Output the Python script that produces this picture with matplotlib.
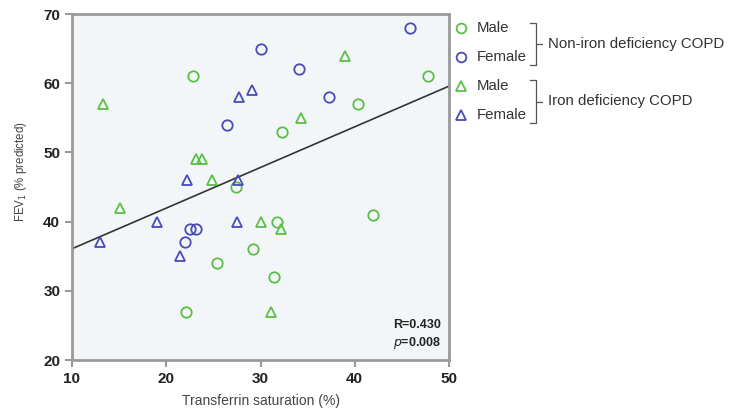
import matplotlib
matplotlib.use("Agg")
import matplotlib.pyplot as plt
from matplotlib.lines import Line2D

# Transferrin saturation (%) and FEV1 (% predicted) per group
nonid_male_x = [22.8, 27.4, 32.3, 40.3, 47.8, 41.9, 31.8, 29.2, 31.4, 25.4, 22.1]
nonid_male_y = [61, 45, 53, 57, 61, 41, 40, 36, 32, 34, 27]

nonid_female_x = [30.0, 34.1, 37.3, 45.9, 26.4, 22.5, 23.2, 22.0]
nonid_female_y = [65, 62, 58, 68, 54, 39, 39, 37]

id_male_x = [13.3, 23.2, 23.8, 24.9, 15.1, 39.0, 34.3, 30.0, 32.2, 31.1]
id_male_y = [57, 49, 49, 46, 42, 64, 55, 40, 39, 27]

id_female_x = [27.7, 29.1, 22.2, 27.6, 13.0, 19.0, 21.5, 27.5]
id_female_y = [58, 59, 46, 46, 37, 40, 35, 40]

# Regression line: FEV1 = intercept + slope * TSAT
fit_intercept = 30.2
fit_slope = 0.5875
fit_range = [10, 50]

x_ticks = [10, 20, 30, 40, 50]
y_ticks = [20, 30, 40, 50, 60, 70]

GREEN = "#5bbf45"
BLUE = "#4a4ab8"

plt.rcParams["font.family"] = ["Liberation Sans", "DejaVu Sans"]

fig = plt.figure(figsize=(7.36, 4.16), dpi=100)
ax = fig.add_axes([72 / 736, 1 - 360 / 416, (449 - 72) / 736, (360 - 14) / 416])
ax.set_facecolor("#f3f6f8")

ms = 7.5
mew = 1.3
ax.plot(nonid_male_x, nonid_male_y, "o", ms=ms, mfc="none", mec=GREEN, mew=mew, zorder=3)
ax.plot(nonid_female_x, nonid_female_y, "o", ms=ms, mfc="none", mec=BLUE, mew=mew, zorder=3)
ax.plot(id_male_x, id_male_y, "^", ms=ms, mfc="none", mec=GREEN, mew=mew, zorder=3)
ax.plot(id_female_x, id_female_y, "^", ms=ms, mfc="none", mec=BLUE, mew=mew, zorder=3)

line_y = [fit_intercept + fit_slope * x for x in fit_range]
ax.plot(fit_range, line_y, color="#333333", lw=1.2, zorder=2)

ax.set_xlim(10, 50)
ax.set_ylim(20, 70)
ax.set_xticks(x_ticks)
ax.set_yticks(y_ticks)
for s in ax.spines.values():
    s.set_color("#9a9a9a")
    s.set_linewidth(2)
ax.tick_params(direction="out", length=5, width=1.5, color="#9a9a9a",
               labelsize=11, labelcolor="#222222")
for lbl in ax.get_xticklabels() + ax.get_yticklabels():
    lbl.set_fontweight("bold")

ax.set_xlabel("Transferrin saturation (%)", fontsize=10, color="#444444", labelpad=6)
ax.set_ylabel("FEV$_1$ (% predicted)", fontsize=8.3, color="#444444")
ax.yaxis.set_label_coords(-0.115, 0.545)

ax.text(0.98, 0.101, "R=0.430", transform=ax.transAxes, ha="right", va="center",
        fontsize=9, fontweight="bold", color="#222222")
ax.text(0.98, 0.049, r"$\bf{\it{p}}$=0.008", transform=ax.transAxes, ha="right", va="center",
        fontsize=9, fontweight="bold", color="#222222")

# Legend with grouping brackets, placed in figure pixel coordinates
W, H = 736, 416


def fx(px):
    return px / W


def fy(py):
    return 1 - py / H


entries = [("o", GREEN, "Male", 28), ("o", BLUE, "Female", 57),
           ("^", GREEN, "Male", 86), ("^", BLUE, "Female", 115)]
for marker, col, label, py in entries:
    fig.add_artist(Line2D([fx(461)], [fy(py)], marker=marker, ms=7, mfc="none",
                          mec=col, mew=1.3, transform=fig.transFigure))
    fig.text(fx(477), fy(py), label, fontsize=10.8, color="#333333", va="center", ha="left")

groups = [(23, 65, "Non-iron deficiency COPD"), (80, 123, "Iron deficiency COPD")]
for top, bot, label in groups:
    mid = (top + bot) / 2
    bx = 536
    kw = dict(color="#555555", lw=0.9, transform=fig.transFigure)
    fig.add_artist(Line2D([fx(530), fx(bx), fx(bx), fx(530)],
                          [fy(top), fy(top), fy(bot), fy(bot)], **kw))
    fig.add_artist(Line2D([fx(bx), fx(542)], [fy(mid), fy(mid)], **kw))
    fig.text(fx(548), fy(mid), label, fontsize=10.8, color="#333333", va="center", ha="left")

fig.savefig("out.png", dpi=100, facecolor="white")
